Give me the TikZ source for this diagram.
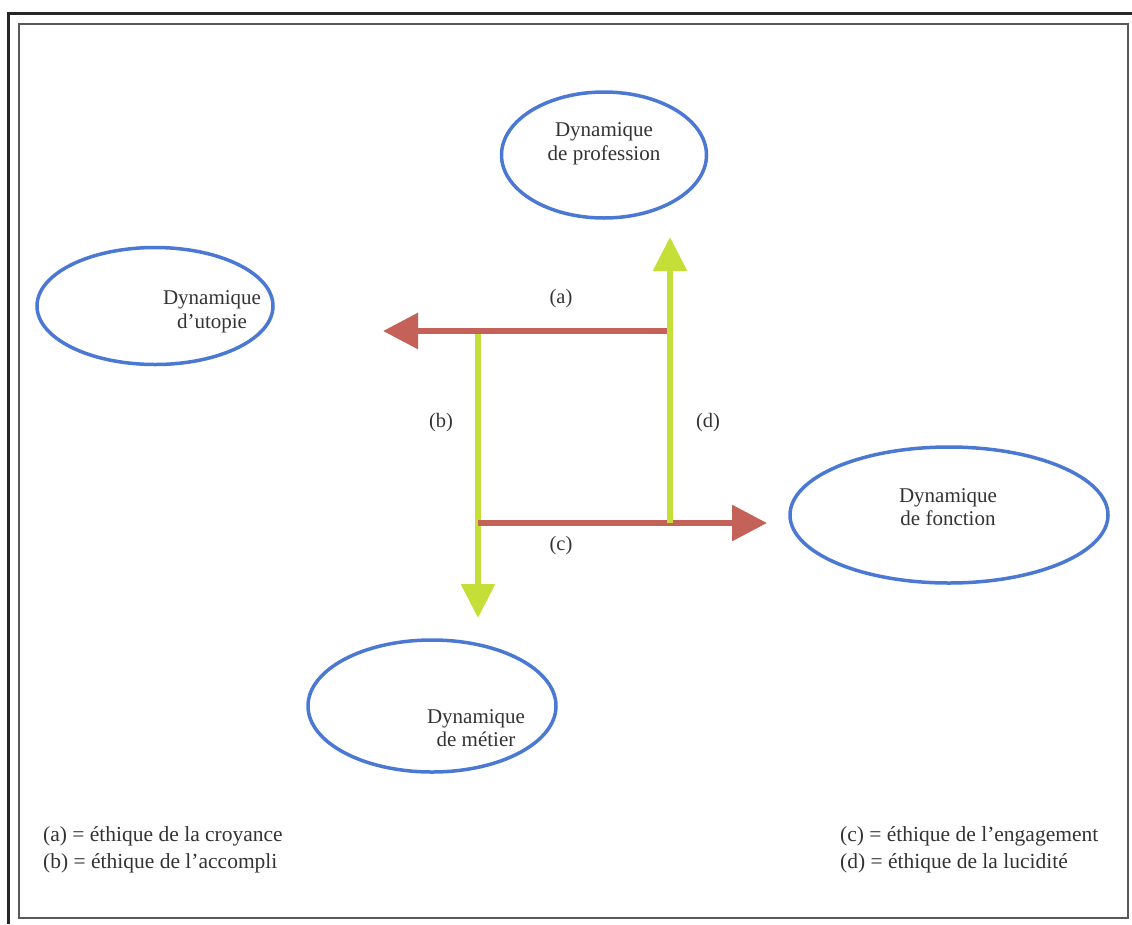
\documentclass[tikz,border=0pt]{standalone}
\usepackage{fontspec}
\setmainfont{Liberation Serif}
\usetikzlibrary{shapes.geometric,arrows.meta}
\definecolor{ellblue}{HTML}{4A78D2}
\definecolor{arrred}{HTML}{C4625A}
\definecolor{arrgreen}{HTML}{C6DE38}
\definecolor{txtgray}{HTML}{333333}
\begin{document}
\begin{tikzpicture}[x=1pt,y=-1pt,
  dyn/.style={draw=ellblue,line width=3.5pt,ellipse,inner sep=0pt},
  dyntext/.style={align=center,inner sep=0pt,font=\fontsize{21}{23.5}\selectfont,text=txtgray},
  lbl/.style={font=\fontsize{20.5}{24}\selectfont,text=txtgray,inner sep=0pt},
  legend/.style={font=\fontsize{21.5}{27}\selectfont,text=txtgray,inner sep=0pt,align=left,anchor=west},
  redarr/.style={draw=arrred,line width=6pt,-{Triangle[length=35pt,width=35pt]}},
  greenarr/.style={draw=arrgreen,line width=6pt,-{Triangle[length=34pt,width=33pt]}}
]
\useasboundingbox (0,0) rectangle (1132,924);
% frame
\draw[line width=3pt,black!85] (8,924) -- (8,13) -- (1132,13);
\draw[line width=1.8pt,black!65] (19,24) rectangle (1128,918);
% ellipses
\node[dyn,minimum width=205pt,minimum height=126pt] (prof) at (604,155) {};
\node[dyntext] (proft) at (604,144) {Dynamique\\de profession};
\node[dyn,minimum width=236pt,minimum height=117pt] (utop) at (155,306) {};
\node[dyntext] (utopt) at (212,312) {Dynamique\\d’utopie};
\node[dyn,minimum width=318pt,minimum height=136pt] (fonc) at (949,515) {};
\node[dyntext] (fonct) at (948,507) {Dynamique\\de fonction};
\node[dyn,minimum width=248pt,minimum height=132pt] (meti) at (432,706) {};
\node[dyntext] (metit) at (476,728) {Dynamique\\de métier};
% arrow coordinates
\coordinate (tr) at (670,331);
\coordinate (tl) at (478,331);
\coordinate (bl) at (478,523);
\coordinate (br) at (670,523);
\coordinate (atip) at (383,331);
\coordinate (btip) at (478,618);
\coordinate (ctip) at (767,523);
\coordinate (dtip) at (670,237);
% arrows
\draw[greenarr] (tl) -- (btip);
\draw[redarr] (tr) -- (atip);
\draw[redarr] (bl) -- (ctip);
\draw[greenarr] (br) -- (dtip);
% labels
\node[lbl] (la) at (561,299) {(a)};
\node[lbl] (lb) at (441,423) {(b)};
\node[lbl] (lc) at (561,546) {(c)};
\node[lbl] (ld) at (708,423) {(d)};
% legend
\node[legend] (legl) at (43,850) {(a) = éthique de la croyance\\(b) = éthique de l’accompli};
\node[legend] (legr) at (840,850) {(c) = éthique de l’engagement\\(d) = éthique de la lucidité};
\end{tikzpicture}
\end{document}
